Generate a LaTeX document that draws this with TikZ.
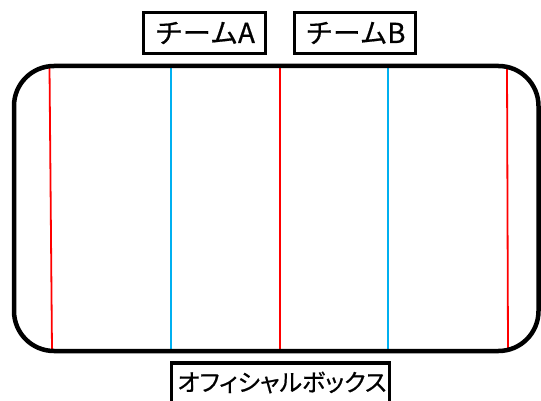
\documentclass[tikz,border=0pt]{standalone}
\usepackage{fontspec}
\usepackage{graphicx}
\setmainfont{Noto Sans CJK JP}[FakeBold=0.6]
\newfontfamily\propjp{Noto Sans CJK JP}[RawFeature=+palt,FakeBold=0.6]
\definecolor{lineblue}{HTML}{00B0F0}
\definecolor{linered}{HTML}{FF0000}
\begin{document}
\begin{tikzpicture}[x=1pt,y=-1pt,
  label box/.style={draw=black, line width=3.4pt, inner sep=0pt},
  label text/.style={inner sep=0pt, font=\fontsize{27.5}{27.5}\selectfont},
  red line/.style={draw=linered, line width=1.8pt},
  blue line/.style={draw=lineblue, line width=1.8pt}]
\useasboundingbox (0,0) rectangle (541,401);
\clip (0,0) rectangle (541,401);
% rink lines
\draw[red line] (49.5,67) -- (52,350);
\draw[blue line] (171,67) -- (171,350);
\draw[red line] (280,67) -- (280,350);
\draw[blue line] (388.3,67) -- (388.3,350);
\draw[red line] (507,67) -- (508,350);
% rink outline
\draw[line width=4.5pt, rounded corners=40pt] (14,66) rectangle (538.5,351);
% labels
\node[label box, minimum width=121.5pt, minimum height=40.5pt] (teamA) at (204.5,33) {};
\node[label text] (teamAtext) at (205,33) {\resizebox{100pt}{\height}{チームA}};
\node[label box, minimum width=120.5pt, minimum height=40.5pt] (teamB) at (355,33) {};
\node[label text] (teamBtext) at (355.5,33) {\resizebox{100pt}{\height}{チームB}};
\node[label box, minimum width=218pt, minimum height=60pt, anchor=north] (official) at (280.75,361.2) {};
\node[label text, font=\fontsize{24}{24}\selectfont\propjp] (officialtext) at (282,382.5) {\resizebox{209pt}{\height}{オフィシャルボックス}};
\end{tikzpicture}
\end{document}
